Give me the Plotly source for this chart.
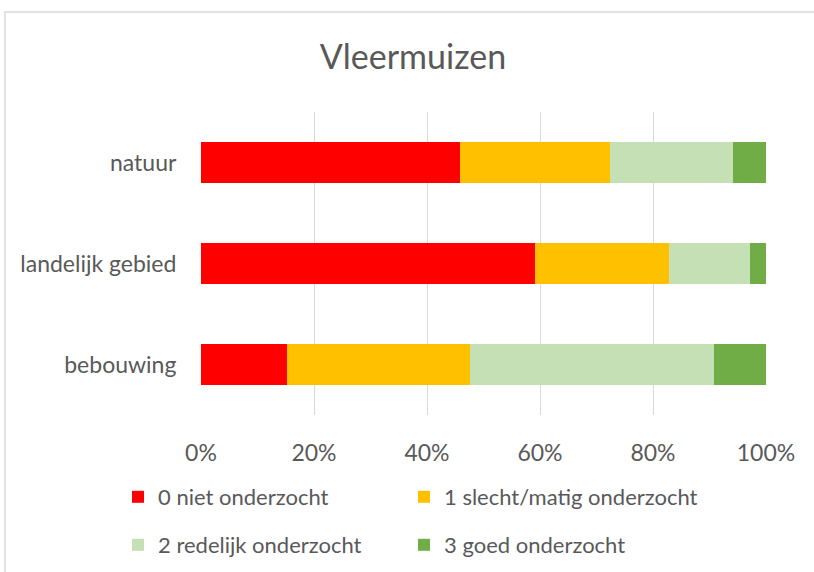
import plotly.graph_objects as go

categories = ["natuur", "landelijk gebied", "bebouwing"]
series_names = ["0 niet onderzocht", "1 slecht/matig onderzocht",
                "2 redelijk onderzocht", "3 goed onderzocht"]
niet = [45.9, 59.1, 15.2]
slecht = [26.5, 23.8, 32.4]
redelijk = [21.8, 14.2, 43.2]
goed = [5.8, 2.9, 9.2]
colors = ["#FF0000", "#FFC000", "#C5E0B4", "#70AD47"]
tick_vals = [0, 20, 40, 60, 80, 100]
tick_text = ["0%", "20%", "40%", "60%", "80%", "100%"]

W, H = 814, 572
L, R, T, B = 201, 766, 112, 415
PW, PH = R - L, B - T

def px_x(px):
    return (px - L) / PW

def px_y(py):
    return (B - py) / PH

FONT = "Lato, Open Sans, sans-serif"

fig = go.Figure()
legend_ids = ["legend", "legend2", "legend3", "legend4"]
legend_pos = [(118, 497), (404, 497), (118, 545), (404, 545)]
for name, vals, col, lg in zip(series_names, [niet, slecht, redelijk, goed], colors, legend_ids):
    fig.add_trace(go.Bar(
        y=categories, x=vals, name=name, orientation="h",
        marker=dict(color=col, line=dict(width=0)),
        width=0.405, legend=lg, showlegend=True,
    ))

legend_layout = {}
for lg, (lx, ly) in zip(legend_ids, legend_pos):
    legend_layout[lg] = dict(
        orientation="h", xanchor="left", yanchor="middle",
        x=px_x(lx), y=px_y(ly),
        font=dict(size=22, color="#595959", family=FONT),
        itemwidth=30, bgcolor="rgba(0,0,0,0)", visible=True)

fig.update_layout(
    width=W, height=H,
    barmode="stack",
    showlegend=True,
    paper_bgcolor="white", plot_bgcolor="white",
    margin=dict(l=L, r=W - R, t=T, b=H - B, pad=0, autoexpand=False),
    font=dict(family=FONT, color="#595959", size=23),
    title=dict(text="Vleermuizen", x=413 / W, xanchor="center", xref="container",
               y=1 - 57 / H, yanchor="middle", yref="container",
               font=dict(size=34, color="#595959", family=FONT)),
    xaxis=dict(range=[0, 100], tickvals=tick_vals, ticktext=tick_text,
               showgrid=True, gridcolor="#D9D9D9", gridwidth=1,
               zeroline=False, showline=False,
               ticks="outside", ticklen=17, tickcolor="rgba(0,0,0,0)",
               tickfont=dict(size=23), fixedrange=True),
    yaxis=dict(categoryorder="array", categoryarray=categories[::-1],
               showgrid=False, zeroline=False, showline=False,
               ticks="outside", ticklen=19, tickcolor="rgba(0,0,0,0)",
               tickfont=dict(size=23), fixedrange=True),
    shapes=[dict(type="rect", xref="paper", yref="paper",
                 x0=px_x(5), x1=px_x(830), y0=px_y(600), y1=px_y(12),
                 line=dict(color="#D9D9D9", width=1.5), fillcolor="rgba(0,0,0,0)",
                 layer="below")],
    **legend_layout,
)

fig.write_html("out.html", post_script="document.body.style.margin='0';",
               config={"displayModeBar": False})
